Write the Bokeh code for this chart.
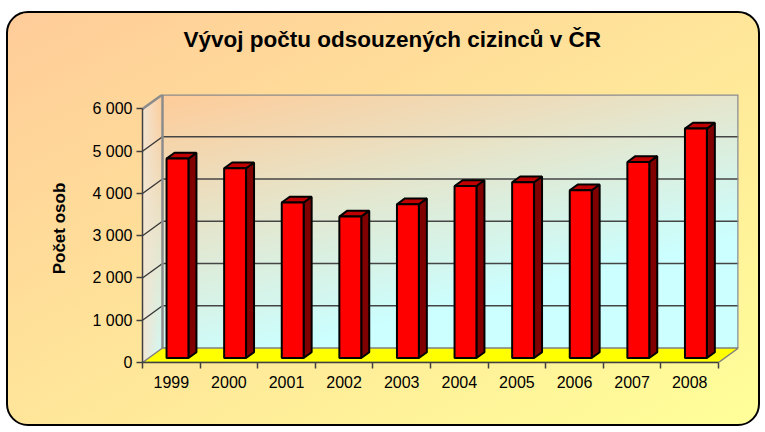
import numpy as np
from bokeh.plotting import figure
from bokeh.models import Range1d, FixedTicker
from bokeh.embed import file_html
from bokeh.resources import INLINE

# ---- data ----
years = ["1999", "2000", "2001", "2002", "2003", "2004", "2005", "2006", "2007", "2008"]
counts = [4720, 4490, 3680, 3350, 3640, 4070, 4160, 3970, 4640, 5430]
ytick_values = [0, 1000, 2000, 3000, 4000, 5000, 6000]
ytick_labels = ["0", "1 000", "2 000", "3 000", "4 000", "5 000", "6 000"]
title_text = "Vývoj počtu odsouzených cizinců v ČR"
y_title = "Počet osob"

# ---- 3D styling constants ----
n = len(years)
YTOP = ytick_values[-1]
DX = 20 / 57.6          # wall depth in category units
DY = 343.0              # wall depth in value units
XMAX = n + DX
YMAX = YTOP + DY
F = 0.31                # depth position of bar front face
BW = 0.38               # bar width
BD = 0.40               # bar depth fraction

p = figure(width=754, height=415, x_range=Range1d(0, XMAX), y_range=Range1d(0, YMAX),
           output_backend="svg", toolbar_location=None,
           min_border_left=134, min_border_right=24, min_border_top=81, min_border_bottom=66)
p.styles = {"background": "linear-gradient(to bottom right, #FFCC99, #FFFF99)",
            "border": "2px solid black", "border-radius": "22px",
            "margin-left": "6px", "margin-top": "11px"}
p.border_fill_alpha = 0
p.background_fill_alpha = 0
p.outline_line_color = None
p.grid.visible = False

# ---- walls as one gradient image ----
nx, ny = 596, 268
gx = (np.arange(nx) + 0.5) / nx * XMAX
gy = (np.arange(ny) + 0.5) / ny * YMAX
X, Y = np.meshgrid(gx, gy)
peach = np.array([255, 204, 153], float)
cyan = np.array([204, 255, 255], float)
rgba = np.zeros((ny, nx, 4), dtype=np.uint8)

back = (X >= DX) & (Y >= DY)
u = np.clip((X - DX) / n, 0, 1)
v = np.clip((YMAX - Y) / YTOP, 0, 1)
t = np.clip(0.5 * u + 0.9 * v, 0, 1)[..., None]
col_back = peach * (1 - t) + cyan * t

s = np.clip(X / DX, 0, 1)
side = (X < DX) & (Y >= s * DY) & (Y <= YTOP + s * DY)
h = Y - s * DY
vs = np.clip(1 - h / YTOP, 0, 1)
ts = np.clip(0.9 * vs, 0, 1)[..., None]
right_col = peach * (1 - ts) + cyan * ts
left_col = np.array([242, 230, 212], float)
ss = s[..., None]
col_side = left_col * (1 - ss) + right_col * ss

col = np.where(back[..., None], col_back, col_side)
mask = back | side
rgba[..., :3] = np.clip(col, 0, 255).astype(np.uint8)
rgba[..., 3] = np.where(mask, 255, 0).astype(np.uint8)
img = rgba.view(np.uint32).reshape(ny, nx)
p.image_rgba(image=[img], x=0, y=0, dw=XMAX, dh=YMAX)

# ---- gridlines ----
grid_vals = ytick_values[1:-1]
p.segment(x0=[DX] * len(grid_vals), y0=[g + DY for g in grid_vals],
          x1=[XMAX] * len(grid_vals), y1=[g + DY for g in grid_vals],
          line_color="#454545", line_width=1.6)
p.segment(x0=[0] * len(grid_vals), y0=grid_vals,
          x1=[DX] * len(grid_vals), y1=[g + DY for g in grid_vals],
          line_color="#333333", line_width=1.3)

# ---- wall borders ----
p.line(x=[DX, DX, XMAX, XMAX], y=[DY, YMAX, YMAX, DY], line_color="#8C8C8C", line_width=2.5)
p.line(x=[0, DX], y=[YTOP, YMAX], line_color="#8C8C8C", line_width=2.5)

# ---- floor ----
p.patch(x=[0, DX, XMAX, n], y=[0, DY, DY, 0], fill_color="#FFFF00",
        line_color="#808080", line_width=1.5)

# ---- bars ----
bdx = BD * DX
bdy = BD * DY
centers_front = [i + 0.5 + F * DX for i in range(n)]
lefts = [c - BW / 2 for c in centers_front]
rights = [c + BW / 2 for c in centers_front]
base = F * DY
tops = [base + c for c in counts]
side_xs = [[r, r + bdx, r + bdx, r] for r in rights]
side_ys = [[base, base + bdy, tp + bdy, tp] for tp in tops]
top_xs = [[l, r, r + bdx, l + bdx] for l, r in zip(lefts, rights)]
top_ys = [[tp, tp, tp + bdy, tp + bdy] for tp in tops]
p.patches(xs=side_xs, ys=side_ys, fill_color="#800000", line_color="black", line_width=2)
p.patches(xs=top_xs, ys=top_ys, fill_color="#C00000", line_color="black", line_width=2)
p.quad(left=lefts, right=rights, bottom=[base] * n, top=tops,
       fill_color="#FF0000", line_color="black", line_width=2)

# ---- axes ----
FONT = "Liberation Sans"
ya = p.yaxis[0]
ya.ticker = FixedTicker(ticks=ytick_values)
ya.major_label_overrides = {v_: l_ for v_, l_ in zip(ytick_values, ytick_labels)}
ya.bounds = (0, YTOP)
ya.axis_line_color = "#404040"
ya.axis_line_width = 1.5
ya.major_tick_line_color = "#404040"
ya.major_tick_line_width = 1.5
ya.major_tick_out = 6
ya.major_tick_in = 0
ya.minor_tick_line_color = None
ya.major_label_text_font = FONT
ya.major_label_text_font_size = "16px"
ya.major_label_text_color = "black"
ya.major_label_standoff = 4
ya.axis_label = y_title
ya.axis_label_text_font = FONT
ya.axis_label_text_font_style = "bold"
ya.axis_label_text_font_size = "17px"
ya.axis_label_text_color = "black"
ya.axis_label_standoff = 20

xa = p.xaxis[0]
cat_centers = [i + 0.5 for i in range(n)]
xa.ticker = FixedTicker(ticks=cat_centers, minor_ticks=list(range(n + 1)))
xa.major_label_overrides = {c: y_ for c, y_ in zip(cat_centers, years)}
xa.bounds = (0, n)
xa.axis_line_color = "#404040"
xa.axis_line_width = 1.5
xa.major_tick_line_color = None
xa.major_tick_out = 0
xa.major_tick_in = 0
xa.minor_tick_line_color = "#404040"
xa.minor_tick_line_width = 1.5
xa.minor_tick_out = 6
xa.minor_tick_in = 0
xa.major_label_text_font = FONT
xa.major_label_text_font_size = "16px"
xa.major_label_text_color = "black"
xa.major_label_standoff = 7

# ---- title ----
p.title.text = title_text
p.title.text_font = FONT
p.title.text_font_style = "bold"
p.title.text_font_size = "22.5px"
p.title.text_color = "black"
p.title.align = "left"
p.title.offset = 41
p.title.vertical_align = "bottom"
p.title.standoff = 0
p.title.padding = {"left": 0, "right": 0, "top": 0, "bottom": 43}

open("out.html", "w").write(file_html(p, INLINE))
